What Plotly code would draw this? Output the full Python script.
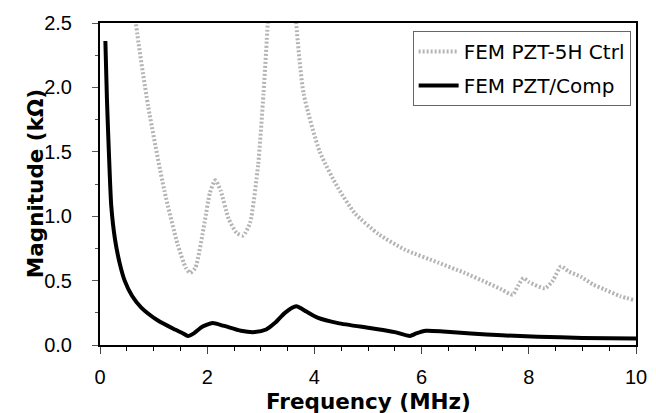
import plotly.graph_objects as go

# FEM PZT-5H control (gray dotted)
ctrl_f = [0.55, 0.67, 0.9, 1.2, 1.45, 1.6, 1.68, 1.78, 1.95, 2.05, 2.15, 2.25, 2.4, 2.55, 2.67,
          2.8, 2.95, 3.05, 3.13, 3.2, 3.6, 3.66, 3.8, 4.1, 4.44, 4.76, 5.2, 5.69, 6.31, 6.8,
          7.24, 7.5, 7.7, 7.8, 7.9, 8.0, 8.3, 8.45, 8.6, 8.75, 8.97, 9.2, 9.42, 9.7, 9.95]
ctrl_z = [3.2, 2.5, 1.85, 1.2, 0.78, 0.6, 0.56, 0.6, 0.95, 1.18, 1.28, 1.2, 0.98, 0.87, 0.85,
          0.95, 1.4, 1.95, 2.5, 3.0, 3.0, 2.5, 1.95, 1.5, 1.22, 1.02, 0.86, 0.74, 0.64, 0.56,
          0.48, 0.43, 0.39, 0.46, 0.52, 0.49, 0.44, 0.5, 0.61, 0.57, 0.53, 0.47, 0.43, 0.38, 0.35]

# FEM PZT/Comp (black solid)
comp_f = [0.1, 0.13, 0.17, 0.21, 0.28, 0.37, 0.46, 0.6, 0.77, 1.08, 1.4, 1.55, 1.64, 1.75, 1.9,
          2.1, 2.3, 2.63, 2.89, 3.1, 3.26, 3.45, 3.66, 3.85, 4.07, 4.44, 5.06, 5.5, 5.78, 5.9,
          6.08, 6.4, 6.92, 7.5, 8.17, 9.0, 10.0]
comp_z = [2.36, 1.9, 1.45, 1.08, 0.82, 0.63, 0.5, 0.38, 0.29, 0.19, 0.12, 0.09, 0.07, 0.09, 0.14,
          0.17, 0.15, 0.11, 0.10, 0.12, 0.17, 0.25, 0.30, 0.26, 0.21, 0.17, 0.13, 0.10, 0.07, 0.09,
          0.11, 0.105, 0.09, 0.075, 0.065, 0.055, 0.05]

fig = go.Figure()
fig.add_trace(go.Scatter(x=ctrl_f, y=ctrl_z, mode="lines", name="FEM PZT-5H Ctrl", legendgroup="a",
                         line=dict(color="#b4b4b4", width=4, dash="2px,2px", shape="spline", smoothing=0.6)))
fig.add_trace(go.Scatter(x=comp_f, y=comp_z, mode="lines", name="FEM PZT/Comp", legendgroup="b",
                         line=dict(color="black", width=4, shape="spline", smoothing=0.6)))

tick_font = dict(family="Liberation Sans, Arial, sans-serif", size=20, color="black")
title_font = dict(family="DejaVu Sans", size=21.5, color="black")
fig.update_layout(
    width=656, height=413,
    margin=dict(l=92, r=28, t=15, b=76),
    plot_bgcolor="white", paper_bgcolor="white",
    font=dict(family="Liberation Sans, Arial, sans-serif", color="black"),
    legend=dict(x=0.99, y=0.975, xanchor="right", yanchor="top",
                bordercolor="#666666", borderwidth=1, bgcolor="white",
                font=dict(family="DejaVu Sans", size=20), tracegroupgap=5, itemwidth=40),
    showlegend=True,
)
fig.update_xaxes(
    range=[0, 10], tickvals=[0, 2, 4, 6, 8, 10], ticks="outside", ticklen=7, tickwidth=1,
    ticklabelstandoff=6, automargin=False,
    showline=True, linecolor="black", linewidth=2, mirror=True, showgrid=False, zeroline=False,
    tickfont=tick_font,
    minor=dict(dtick=0.5, ticks="outside", ticklen=4, tickcolor="black"),
)
fig.update_yaxes(
    range=[0, 2.5], dtick=0.5, tickformat=".1f", ticks="outside", ticklen=6, tickwidth=1,
    tickcolor="#555555", ticklabelstandoff=16, automargin=False,
    showline=True, linecolor="black", linewidth=2, mirror=True, showgrid=False, zeroline=False,
    tickfont=tick_font,
    minor=dict(dtick=0.25, ticks="outside", ticklen=3, tickcolor="#555555"),
)
# axis titles placed as annotations for exact positioning
fig.add_annotation(text="<b>Frequency (MHz)</b>", xref="paper", yref="paper",
                   x=0.5, y=-0.177, xanchor="center", yanchor="middle",
                   showarrow=False, font=title_font)
fig.add_annotation(text="<b>Magnitude (kΩ)</b>", xref="paper", yref="paper",
                   x=-0.121, y=0.5, xanchor="center", yanchor="middle", textangle=-90,
                   showarrow=False, font=title_font)

fig.write_html("out.html")
